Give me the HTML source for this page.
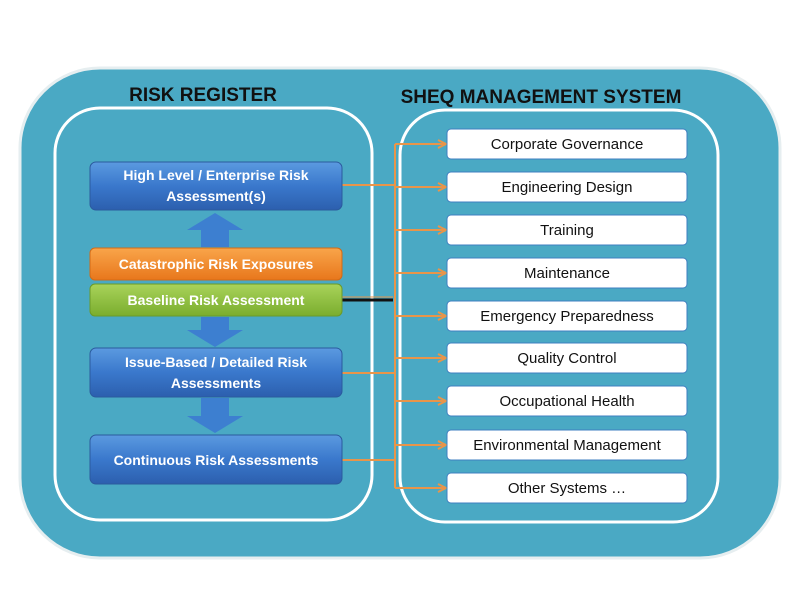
<!DOCTYPE html>
<html><head><style>
body{margin:0;background:#fff;width:800px;height:600px;overflow:hidden;font-family:"Liberation Sans",sans-serif}
</style></head><body>
<svg width="800" height="600" xmlns="http://www.w3.org/2000/svg">
<defs>
<linearGradient id="bl" x1="0" y1="0" x2="0" y2="1"><stop offset="0" stop-color="#5b9ae0"/><stop offset="0.5" stop-color="#3a78cc"/><stop offset="1" stop-color="#2c5fae"/></linearGradient>
<linearGradient id="or" x1="0" y1="0" x2="0" y2="1"><stop offset="0" stop-color="#f9a54a"/><stop offset="1" stop-color="#e8771c"/></linearGradient>
<linearGradient id="gr" x1="0" y1="0" x2="0" y2="1"><stop offset="0" stop-color="#a9d35a"/><stop offset="1" stop-color="#7aad2e"/></linearGradient>
<marker id="ah" markerWidth="10" markerHeight="10" refX="9" refY="5" orient="auto" markerUnits="userSpaceOnUse"><path d="M1,1 L9,5 L1,9" fill="none" stroke="#e8954a" stroke-width="2"/></marker>
</defs>
<rect x="20" y="68" width="760" height="490" rx="80" fill="#4aa9c4" stroke="#e6eef0" stroke-width="3"/>
<rect x="55" y="108" width="317" height="412" rx="45" fill="none" stroke="#fff" stroke-width="3"/>
<rect x="400" y="110" width="318" height="412" rx="45" fill="none" stroke="#fff" stroke-width="3"/>
<text x="203" y="101" font-size="19" font-weight="bold" text-anchor="middle" fill="#111">RISK REGISTER</text>
<text x="541" y="103" font-size="19" font-weight="bold" text-anchor="middle" fill="#111">SHEQ MANAGEMENT SYSTEM</text>
<!-- connectors -->
<g stroke="#e8954a" stroke-width="2" fill="none">
<line x1="395" y1="144" x2="395" y2="488"/>
<line x1="342" y1="185" x2="395" y2="185"/>
<line x1="342" y1="373" x2="395" y2="373"/>
<line x1="342" y1="460" x2="395" y2="460"/>
<line x1="395" y1="144" x2="446" y2="144" marker-end="url(#ah)"/>
<line x1="395" y1="187" x2="446" y2="187" marker-end="url(#ah)"/>
<line x1="395" y1="230" x2="446" y2="230" marker-end="url(#ah)"/>
<line x1="395" y1="273" x2="446" y2="273" marker-end="url(#ah)"/>
<line x1="395" y1="316" x2="446" y2="316" marker-end="url(#ah)"/>
<line x1="395" y1="358" x2="446" y2="358" marker-end="url(#ah)"/>
<line x1="395" y1="401" x2="446" y2="401" marker-end="url(#ah)"/>
<line x1="395" y1="445" x2="446" y2="445" marker-end="url(#ah)"/>
<line x1="395" y1="488" x2="446" y2="488" marker-end="url(#ah)"/>
</g>
<line x1="342" y1="300" x2="393" y2="300" stroke="#111" stroke-width="3"/>
<line x1="342" y1="297" x2="393" y2="297" stroke="#e8954a" stroke-width="1"/>
<!-- block arrows -->
<g fill="#3d7fd0">
<path d="M215,213 L243,230 L229,230 L229,247 L201,247 L201,230 L187,230 Z"/>
<path d="M201,317 L229,317 L229,330 L243,330 L215,347 L187,330 L201,330 Z"/>
<path d="M201,398 L229,398 L229,416 L243,416 L215,433 L187,416 L201,416 Z"/>
</g>
<!-- left boxes -->
<rect x="90" y="162" width="252" height="48" rx="6" fill="url(#bl)" stroke="#2b5a9e"/>
<text x="216" y="180" font-size="14" font-weight="bold" fill="#fff" text-anchor="middle">High Level / Enterprise Risk</text>
<text x="216" y="201" font-size="14" font-weight="bold" fill="#fff" text-anchor="middle">Assessment(s)</text>
<rect x="90" y="248" width="252" height="32" rx="5" fill="url(#or)" stroke="#d36a15"/>
<text x="216" y="269" font-size="14" font-weight="bold" fill="#fff" text-anchor="middle">Catastrophic Risk Exposures</text>
<rect x="90" y="284" width="252" height="32" rx="5" fill="url(#gr)" stroke="#6b9a28"/>
<text x="216" y="305" font-size="14" font-weight="bold" fill="#fff" text-anchor="middle">Baseline Risk Assessment</text>
<rect x="90" y="348" width="252" height="49" rx="6" fill="url(#bl)" stroke="#2b5a9e"/>
<text x="216" y="367" font-size="14" font-weight="bold" fill="#fff" text-anchor="middle">Issue-Based  / Detailed Risk</text>
<text x="216" y="388" font-size="14" font-weight="bold" fill="#fff" text-anchor="middle">Assessments</text>
<rect x="90" y="435" width="252" height="49" rx="6" fill="url(#bl)" stroke="#2b5a9e"/>
<text x="216" y="465" font-size="14" font-weight="bold" fill="#fff" text-anchor="middle">Continuous Risk Assessments</text>
<!-- right boxes -->
<g fill="#fff" stroke="#3f7fc0" stroke-width="1">
<rect x="447" y="129" width="240" height="30" rx="4"/>
<rect x="447" y="172" width="240" height="30" rx="4"/>
<rect x="447" y="215" width="240" height="30" rx="4"/>
<rect x="447" y="258" width="240" height="30" rx="4"/>
<rect x="447" y="301" width="240" height="30" rx="4"/>
<rect x="447" y="343" width="240" height="30" rx="4"/>
<rect x="447" y="386" width="240" height="30" rx="4"/>
<rect x="447" y="430" width="240" height="30" rx="4"/>
<rect x="447" y="473" width="240" height="30" rx="4"/>
</g>
<g font-size="15" fill="#111" text-anchor="middle">
<text x="567" y="149">Corporate Governance</text>
<text x="567" y="192">Engineering Design</text>
<text x="567" y="235">Training</text>
<text x="567" y="278">Maintenance</text>
<text x="567" y="321">Emergency Preparedness</text>
<text x="567" y="363">Quality Control</text>
<text x="567" y="406">Occupational Health</text>
<text x="567" y="450">Environmental Management</text>
<text x="567" y="493">Other Systems …</text>
</g>
</svg>
</body></html>
